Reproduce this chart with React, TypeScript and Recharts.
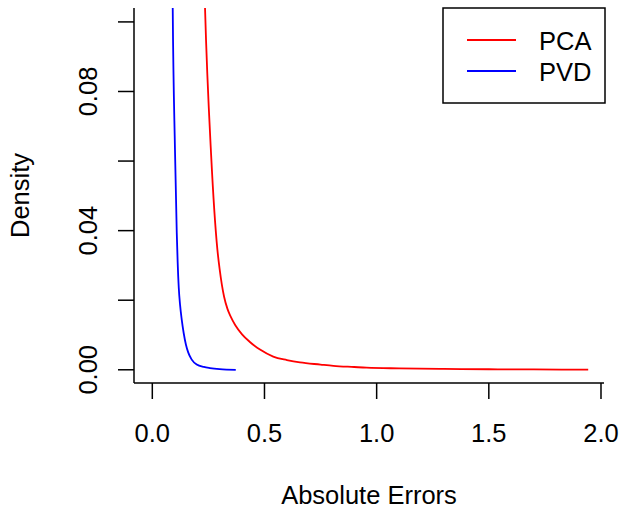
import React from 'react';
import { LineChart, Line, XAxis, YAxis } from 'recharts';

const pcaX = [0.215, 0.235, 0.262, 0.29, 0.30, 0.31, 0.32, 0.335, 0.35, 0.37, 0.40, 0.435, 0.48, 0.539, 0.60, 0.658, 0.75, 0.807, 0.9, 0.955, 1.1, 1.3, 1.5, 1.7, 1.943];
const pcaY = [0.16, 0.104, 0.062, 0.0346, 0.029, 0.0245, 0.021, 0.0175, 0.0152, 0.0128, 0.0102, 0.0080, 0.0058, 0.0038, 0.0028, 0.0021, 0.0015, 0.00115, 0.0008, 0.0006, 0.0004, 0.00025, 0.00015, 0.0001, 0.00005];
const pvdX = [0.085, 0.091, 0.101, 0.109, 0.113, 0.118, 0.124, 0.131, 0.14, 0.15, 0.16, 0.175, 0.198, 0.23, 0.257, 0.30, 0.372];
const pvdY = [0.16, 0.104, 0.0634, 0.0394, 0.031, 0.0235, 0.0185, 0.0145, 0.0105, 0.0072, 0.005, 0.003, 0.0015, 0.0008, 0.0005, 0.0002, 0.0];

const xTicks = [0, 0.5, 1.0, 1.5, 2.0];
const yTicks = [0, 0.02, 0.04, 0.06, 0.08, 0.10];
const yLabeled = [0, 0.04, 0.08];
const xDomain = [-0.0816, 2.0134];
const yDomain = [-0.0038, 0.104];

const seriesNames = ['PCA', 'PVD'];
const seriesColors = ['#ff0000', '#0000ff'];

const pcaData = pcaX.map((x, i) => ({ x, y: pcaY[i] }));
const pvdData = pvdX.map((x, i) => ({ x, y: pvdY[i] }));

const FONT = '"Liberation Sans", Arial, Helvetica, sans-serif';
const FS = 25.5;

const YTick = (props: any) => {
  const { x, y, payload } = props;
  const v = payload.value;
  if (!yLabeled.some((t) => Math.abs(t - v) < 1e-9)) return null;
  return (
    <text
      x={x}
      y={y}
      transform={`rotate(-90, ${x}, ${y})`}
      textAnchor="middle"
      fontFamily={FONT}
      fontSize={FS}
      fill="#000"
    >
      {v.toFixed(2)}
    </text>
  );
};

const XTick = (props: any) => {
  const { x, y, payload } = props;
  return (
    <text x={x} y={y} dy="0.71em" textAnchor="middle" fontFamily={FONT} fontSize={FS} fill="#000">
      {payload.value.toFixed(1)}
    </text>
  );
};

export default function App() {
  return (
    <div style={{ position: 'absolute', left: 0, top: 0, width: 619, height: 510, background: '#fff' }}>
      <LineChart width={619} height={510} margin={{ top: 8, right: 15, left: 0, bottom: 0 }}>
        <XAxis
          dataKey="x"
          type="number"
          domain={xDomain}
          ticks={xTicks}
          allowDataOverflow
          height={127}
          axisLine={{ stroke: '#000', strokeWidth: 1.5 }}
          tickLine={{ stroke: '#000', strokeWidth: 1.5 }}
          tickSize={16}
          tickMargin={25}
          tick={<XTick />}
          label={{ value: 'Absolute Errors', position: 'insideBottom', offset: 6, fontFamily: FONT, fontSize: FS, fill: '#000' }}
        />
        <XAxis
          xAxisId="top"
          orientation="top"
          type="number"
          domain={xDomain}
          height={0}
          tick={false}
          tickLine={false}
          axisLine={{ stroke: '#000', strokeWidth: 1.5 }}
        />
        <YAxis
          type="number"
          domain={yDomain}
          ticks={yTicks}
          allowDataOverflow
          width={134}
          axisLine={{ stroke: '#000', strokeWidth: 1.5 }}
          tickLine={{ stroke: '#000', strokeWidth: 1.5 }}
          tickSize={16}
          tickMargin={21}
          tick={<YTick />}
          label={{ value: 'Density', angle: -90, position: 'insideLeft', offset: 20, fontFamily: FONT, fontSize: FS, fill: '#000', style: { textAnchor: 'middle' } }}
        />
        <YAxis
          yAxisId="right"
          orientation="right"
          type="number"
          domain={yDomain}
          width={0}
          tick={false}
          tickLine={false}
          axisLine={{ stroke: '#000', strokeWidth: 1.5 }}
        />
        <Line data={pcaData} dataKey="y" name={seriesNames[0]} stroke={seriesColors[0]} strokeWidth={1.8} dot={false} type="monotoneX" isAnimationActive={false} />
        <Line data={pvdData} dataKey="y" name={seriesNames[1]} stroke={seriesColors[1]} strokeWidth={1.8} dot={false} type="monotoneX" isAnimationActive={false} />
      </LineChart>
      <svg width={619} height={510} style={{ position: 'absolute', left: 0, top: 0, pointerEvents: 'none' }}>
        <rect x={443} y={8} width={162} height={95} fill="#fff" stroke="#000" strokeWidth={1.5} />
        {seriesNames.map((n, i) => (
          <g key={n}>
            <line x1={467} x2={516} y1={40 + i * 31} y2={40 + i * 31} stroke={seriesColors[i]} strokeWidth={1.8} />
            <text x={539} y={49.5 + i * 31} fontFamily={FONT} fontSize={FS} fill="#000">{n}</text>
          </g>
        ))}
      </svg>
    </div>
  );
}
